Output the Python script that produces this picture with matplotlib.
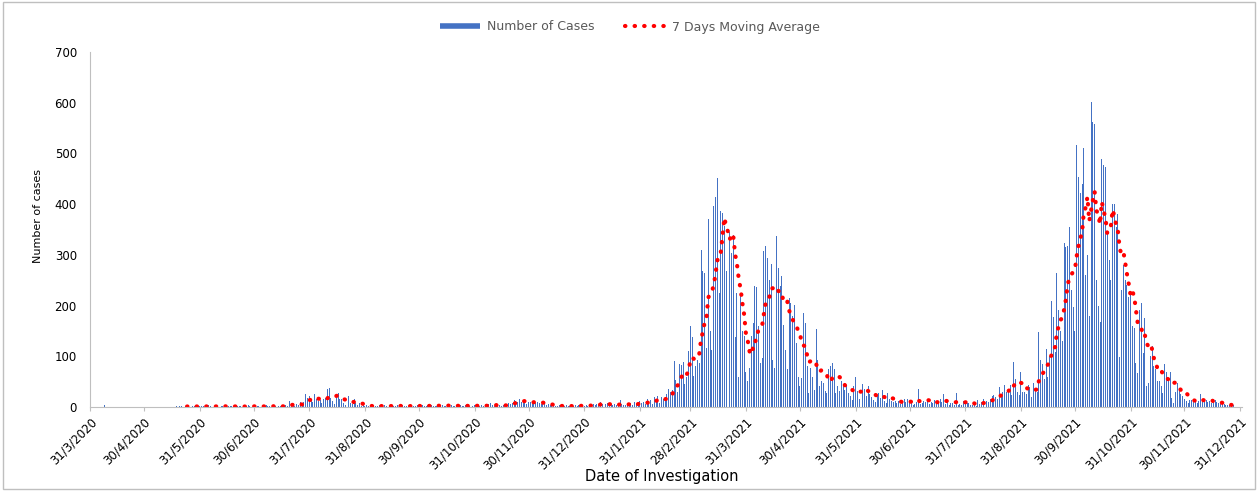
import numpy as np
import pandas as pd
import matplotlib
matplotlib.use('Agg')
import matplotlib.pyplot as plt
from matplotlib.lines import Line2D
from matplotlib.patches import Rectangle

# --- Daily number of cases, one list per month (None = not reported) ---
apr_2020 = [None] * 7 + [3] + [None] * 22
may_2020 = [None] * 17 + [1, 0, 2, 1, 0, 1, 2, 1, 0, 1, 2, 1, 0, 1]
jun_2020 = [1, 2, 0, 1, 3, 1, 0, 2, 1, 1, 0, 2, 1, 3, 0, 1, 2, 1, 0, 1,
            2, 1, 1, 0, 2, 1, 3, 1, 0, 2]
jul_2020 = [1, 2, 1, 0, 2, 1, 3, 1, 1, 0, 2, 1, 0, 2, 1, 3, 2, 4, 2, 12,
            3, 5, 2, 6, 4, 9, 5, 10, 26, 18, 22]
aug_2020 = [12, 10, 25, 16, 12, 14, 8, 15, 18, 35, 37, 18, 12, 6, 26, 27,
            15, 16, 8, 4, 7, 22, 8, 5, 15, 7, 3, 8, 2, 4, 1]
sep_2020 = [3, 1, 2, 0, 3, 1, 2, 4, 1, 2, 3, 1, 0, 2, 3, 1, 2, 4, 2, 1,
            3, 2, 1, 0, 2, 3, 1, 2, 4, 2]
oct_2020 = [1, 3, 2, 2, 4, 1, 3, 2, 1, 2, 5, 2, 3, 1, 2, 4, 2, 3, 1, 2,
            3, 2, 4, 1, 2, 3, 1, 2, 4, 2, 3]
nov_2020 = [2, 3, 1, 4, 2, 3, 2, 5, 7, 3, 2, 4, 1, 3, 2, 4, 6, 3, 8, 5,
            8, 14, 12, 9, 15, 10, 13, 8, 6, 10]
dec_2020 = [9, 8, 12, 7, 10, 8, 6, 9, 5, 4, 6, 3, 2, 3, 2, 1, 3, 2, 1, 2,
            3, 1, 2, 2, 1, 3, 2, 4, 2, 3, 2]
jan_2021 = [3, 2, 4, 3, 5, 4, 6, 3, 9, 5, 4, 6, 8, 3, 5, 4, 6, 3, 2, 13,
            5, 4, 3, 5, 5, 8, 3, 10, 6, 4, 12]
feb_2021 = [7, 9, 5, 16, 10, 14, 6, 20, 12, 22, 8, 20, 15, 12, 25, 35,
            30, 34, 90, 54, 30, 85, 83, 89, 45, 60, 110, 159]
mar_2021 = [139, 62, 80, 93, 87, 310, 268, 264, 116, 370, 149, 113, 396,
            415, 452, 225, 386, 383, 356, 268, 350, 346, 304, 340, 139,
            225, 60, 218, 150, 140, 70]
apr_2021 = [51, 77, 140, 166, 238, 237, 159, 87, 97, 307, 317, 294, 251,
            281, 93, 77, 337, 274, 238, 258, 162, 113, 74, 215, 205, 179,
            202, 126, 60, 41]
may_2021 = [57, 185, 166, 80, 28, 77, 60, 34, 153, 93, 41, 51, 47, 31, 28,
            74, 80, 87, 74, 28, 41, 31, 51, 44, 34, 44, 28, 21, 14, 41, 60]
jun_2021 = [31, 15, 30, 45, 36, 22, 41, 25, 20, 14, 10, 22, 28, 18, 33,
            12, 7, 28, 15, 12, 9, 12, 8, 12, 6, 10, 15, 9, 16, 7]
jul_2021 = [10, 4, 5, 9, 36, 6, 8, 12, 9, 15, 6, 10, 8, 14, 5, 8, 16, 10,
            25, 6, 12, 4, 7, 7, 3, 28, 4, 5, 3, 12, 10]
aug_2021 = [8, 8, 3, 4, 5, 2, 14, 5, 9, 15, 6, 12, 10, 16, 22, 23, 20, 16,
            39, 25, 30, 44, 30, 35, 43, 23, 89, 56, 30, 23, 70]
sep_2021 = [30, 30, 25, 43, 39, 20, 48, 35, 30, 148, 92, 85, 56, 115, 59,
            100, 210, 178, 108, 264, 191, 150, 130, 323, 316, 317, 355,
            230, 197, 150]
oct_2021 = [516, 454, 421, 440, 510, 260, 300, 180, 602, 562, 559, 250,
            200, 168, 490, 477, 473, 342, 290, 250, 401, 401, 355, 380, 99,
            230, 280, 250, 240, 217, 224]
nov_2021 = [159, 156, 87, 67, 192, 205, 107, 176, 41, 47, 100, 120, 80, 74,
            51, 51, 41, 28, 84, 70, 57, 70, 18, 7, 30, 47, 37, 25, 21, 16]
dec_2021 = [12, 8, 14, 14, 10, 11, 8, 12, 26, 15, 11, 14, 10, 12, 8, 10,
            13, 9, 7, 6, 5, 5, 4, 3, 4, 2, 3]

months = [apr_2020, may_2020, jun_2020, jul_2020, aug_2020, sep_2020,
          oct_2020, nov_2020, dec_2020, jan_2021, feb_2021, mar_2021,
          apr_2021, may_2021, jun_2021, jul_2021, aug_2021, sep_2021,
          oct_2021, nov_2021, dec_2021]
cases_list = [v for m in months for v in m]

dates = pd.date_range('2020-04-01', periods=len(cases_list), freq='D')
cases = pd.Series(cases_list, index=dates, dtype=float)
moving_avg = cases.rolling(7, min_periods=7).mean()

tick_dates = pd.date_range('2020-03-31', '2021-12-31', freq='ME')
tick_labels = [f"{d.day}/{d.month}/{d.year}" for d in tick_dates]

# --- Figure ---
plt.rcParams['font.family'] = ['DejaVu Sans']
W, H = 1258, 491
fig = plt.figure(figsize=(W / 100, H / 100), dpi=100)
ax = fig.add_axes([90 / W, 1 - 407 / H, (1242 - 90) / W, (407 - 52) / H])

bar_color = '#4472C4'
ax.bar(dates, cases.values, width=0.55, color=bar_color, linewidth=0)
ax.plot(dates, moving_avg.values, color='#FF0000', lw=3,
        linestyle=(0, (0.1, 2.2)), dash_capstyle='round')

ax.set_ylim(0, 700)
ax.set_yticks(range(0, 701, 100))
ax.set_xlim(pd.Timestamp('2020-03-31'), pd.Timestamp('2022-01-01'))
ax.set_xticks(tick_dates)
ax.set_xticklabels(tick_labels, rotation=45, ha='right',
                   rotation_mode='anchor', fontsize=8.5)
ax.tick_params(axis='y', length=0, pad=9.5, labelsize=8.5)
ax.tick_params(axis='x', length=3, color='#BFBFBF', pad=3)

for side in ['top', 'right']:
    ax.spines[side].set_visible(False)
for side in ['left', 'bottom']:
    ax.spines[side].set_color('#BFBFBF')
    ax.spines[side].set_linewidth(0.8)

fig.text(38 / W, 1 - 216 / H, 'Number of cases', rotation=90,
         ha='center', va='center', fontsize=8)
fig.text(662 / W, 1 - 476 / H, 'Date of Investigation',
         ha='center', va='center', fontsize=10.5)

handles = [Line2D([], [], color=bar_color, lw=4, solid_capstyle='butt'),
           Line2D([], [], color='#FF0000', lw=3, linestyle=(0, (0.1, 2.2)),
                  dash_capstyle='round')]
fig.legend(handles, ['Number of Cases', '7 Days Moving Average'],
           loc='center', bbox_to_anchor=(630 / W, 1 - 27 / H), ncol=2,
           frameon=False, fontsize=9, handlelength=3.2, handletextpad=0.6,
           columnspacing=2.4, labelcolor='#595959')

fig.patches.append(Rectangle((3 / W, 2 / H), (W - 6) / W, (H - 4) / H,
                             transform=fig.transFigure, fill=False,
                             edgecolor='#BFBFBF', lw=1))

fig.savefig('out.png', dpi=100)
